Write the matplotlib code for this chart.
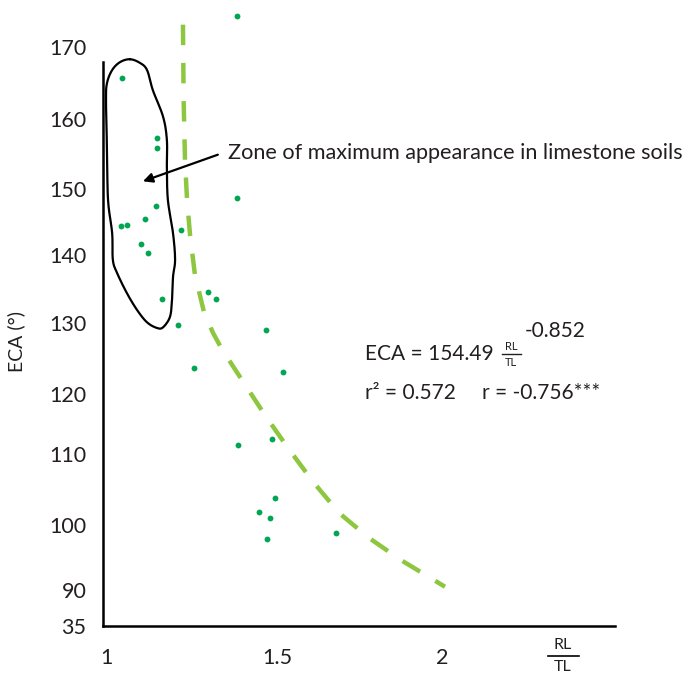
import numpy as np
import matplotlib
matplotlib.use("Agg")
import matplotlib.pyplot as plt
from matplotlib.lines import Line2D

# ---------------- data ----------------
ratio = [1.383, 1.047, 1.149, 1.149, 1.146, 1.114, 1.044, 1.061, 1.219, 1.102,
         1.123, 1.383, 1.298, 1.322, 1.164, 1.211, 1.468, 1.257, 1.518, 1.386,
         1.485, 1.494, 1.447, 1.480, 1.471, 1.679]
eca = [174.3, 165.7, 157.3, 155.9, 147.4, 145.5, 144.4, 144.5, 143.8, 141.7,
       140.3, 148.6, 134.6, 133.5, 133.5, 129.7, 129.0, 123.7, 123.1, 111.5,
       112.5, 103.8, 101.8, 101.0, 97.8, 98.8]

fit_x = [1.225, 1.227, 1.231, 1.237, 1.246, 1.260, 1.287, 1.313, 1.339, 1.404,
         1.468, 1.536, 1.609, 1.688, 1.779, 1.879, 2.009]
fit_y = [173.1, 162.6, 154.1, 148.3, 142.9, 137.1, 131.5, 128.6, 126.3, 121.5,
         116.2, 110.8, 106.1, 101.7, 98.0, 94.5, 90.5]

zone_x = [1.070, 1.099, 1.120, 1.137, 1.167, 1.178, 1.178, 1.181, 1.196, 1.202,
          1.196, 1.193, 1.187, 1.167, 1.149, 1.120, 1.091, 1.061, 1.032, 1.020,
          1.018, 1.006, 1.003, 1.000, 1.003, 1.018, 1.041]
zone_y = [168.3, 167.8, 166.8, 164.0, 160.3, 157.0, 153.1, 148.3, 143.3, 139.3,
          136.8, 133.4, 130.9, 129.4, 129.3, 130.1, 131.9, 134.4, 137.4, 139.3,
          143.3, 148.3, 155.6, 162.6, 165.0, 166.8, 167.9]

y_ticks = [35, 90, 100, 110, 120, 130, 140, 150, 160, 170]
x_ticks = [1, 1.5, 2]
x_ticklabels = ["1", "1.5", "2"]

# ---------------- styling ----------------
W, H = 689, 674
DPI = 100
FONT = ["Lato", "DejaVu Sans"]
TXT = "#231F20"
DOT = "#00A651"
FIT = "#8DC63F"

plt.rcParams["font.family"] = FONT


def pl(x, xp, fp):
    x = np.asarray(x, dtype=float)
    shp = x.shape
    x = np.atleast_1d(x).astype(float)
    y = np.interp(x, xp, fp)
    lo = x < xp[0]
    hi = x > xp[-1]
    y[lo] = fp[0] + (x[lo] - xp[0]) * (fp[1] - fp[0]) / (xp[1] - xp[0])
    y[hi] = fp[-1] + (x[hi] - xp[-1]) * (fp[-1] - fp[-2]) / (xp[-1] - xp[-2])
    return y.reshape(shp)


# irregular y axis (label positions of the original chart)
y_rows = [626, 590, 525, 454, 394, 323, 255, 189, 119, 47]
y_pos = [-r for r in y_rows]
x_cols = [106, 277, 442]


def yf(v):
    return pl(v, y_ticks, y_pos)


def yi(p):
    return pl(p, y_pos, y_ticks)


def xf(v):
    return pl(v, x_ticks, x_cols)


def xi(p):
    return pl(p, x_cols, x_ticks)


def fpx(x, y):
    return (x / W, 1 - y / H)


def closed_spline(xs, ys, n=12):
    px = np.asarray(xs, float)
    py = np.asarray(ys, float)
    m = len(px)
    ox, oy = [], []
    for i in range(m):
        p0 = np.array([px[(i - 1) % m], py[(i - 1) % m]])
        p1 = np.array([px[i], py[i]])
        p2 = np.array([px[(i + 1) % m], py[(i + 1) % m]])
        p3 = np.array([px[(i + 2) % m], py[(i + 2) % m]])
        for t in np.linspace(0, 1, n, endpoint=False):
            t2, t3 = t * t, t * t * t
            p = 0.5 * ((2 * p1) + (-p0 + p2) * t +
                       (2 * p0 - 5 * p1 + 4 * p2 - p3) * t2 +
                       (-p0 + 3 * p1 - 3 * p2 + p3) * t3)
            ox.append(p[0])
            oy.append(p[1])
    ox.append(ox[0])
    oy.append(oy[0])
    return ox, oy


fig = plt.figure(figsize=(W / DPI, H / DPI), dpi=DPI)
L, R, T, B = 103, 615, 47, 626
SPINE_TOP = 62
ax = fig.add_axes([L / W, 1 - B / H, (R - L) / W, (B - T) / H])
ax.set_yscale("function", functions=(yf, yi))
ax.set_xscale("function", functions=(xf, xi))

for s in ["top", "right"]:
    ax.spines[s].set_visible(False)
for s in ["left", "bottom"]:
    ax.spines[s].set_linewidth(1.8)
    ax.spines[s].set_color("black")

ax.set_yticks(y_ticks)
ax.set_yticklabels([str(v) for v in y_ticks])
ax.set_xticks(x_ticks)
ax.set_xticklabels(x_ticklabels)
ax.yaxis.set_minor_locator(matplotlib.ticker.NullLocator())
ax.xaxis.set_minor_locator(matplotlib.ticker.NullLocator())
ax.tick_params(axis="both", length=0, labelsize=15.5, colors=TXT)
ax.tick_params(axis="y", pad=12)
ax.tick_params(axis="x", pad=16)

# zone outline (smooth closed curve)
zx, zy = closed_spline(zone_x, zone_y)
ax.plot(zx, zy, color="black", lw=1.6, clip_on=False,
        solid_joinstyle="round", solid_capstyle="round")

# fitted curve
ax.plot(fit_x, fit_y, color=FIT, lw=3.2, dashes=(4.6, 4.0), clip_on=False)

# points
ax.plot(ratio, eca, "o", color=DOT, ms=4.2, mec="none", clip_on=False)

# limits after ticks (set_ticks would otherwise widen them)
ax.set_ylim(35, 170)
ax.set_xlim(float(xi(L)), float(xi(R)))
ax.spines["left"].set_bounds(35, float(yi(-SPINE_TOP)))

# annotation arrow
ax.annotate("", xy=(1.108, 151.1), xytext=(1.327, 154.9),
            arrowprops=dict(arrowstyle="-|>", color="black", lw=1.6,
                            mutation_scale=14, shrinkA=0, shrinkB=0))
fig.text(*fpx(228, 153), "Zone of maximum appearance in limestone soils",
         fontsize=15.6, color=TXT, va="center", ha="left")

# y label
fig.text(*fpx(16, 341), "ECA (°)", rotation=90, fontsize=14, color=TXT,
         va="center", ha="center")

# x label (fraction)
fig.text(*fpx(563, 645), "RL", fontsize=11.5, color=TXT, ha="center", va="center")
fig.text(*fpx(563, 667), "TL", fontsize=11.5, color=TXT, ha="center", va="center")
fig.add_artist(Line2D([548 / W, 579 / W], [1 - 656 / H, 1 - 656 / H],
                      color="black", lw=1.2))

# equation
fig.text(*fpx(365, 354), "ECA = 154.49", fontsize=15, color=TXT,
         ha="left", va="center")
fig.text(*fpx(511, 346), "RL", fontsize=8, color=TXT, ha="center", va="center")
fig.text(*fpx(511, 363), "TL", fontsize=8, color=TXT, ha="center", va="center")
fig.add_artist(Line2D([502 / W, 521 / W], [1 - 354 / H, 1 - 354 / H],
                      color=TXT, lw=1.0))
fig.text(*fpx(525, 331), "-0.852", fontsize=15, color=TXT,
         ha="left", va="center")
fig.text(*fpx(365, 393), "r² = 0.572", fontsize=15, color=TXT,
         ha="left", va="center")
fig.text(*fpx(482, 393), "r = -0.756***", fontsize=15, color=TXT,
         ha="left", va="center")

fig.savefig("out.png", dpi=DPI)
